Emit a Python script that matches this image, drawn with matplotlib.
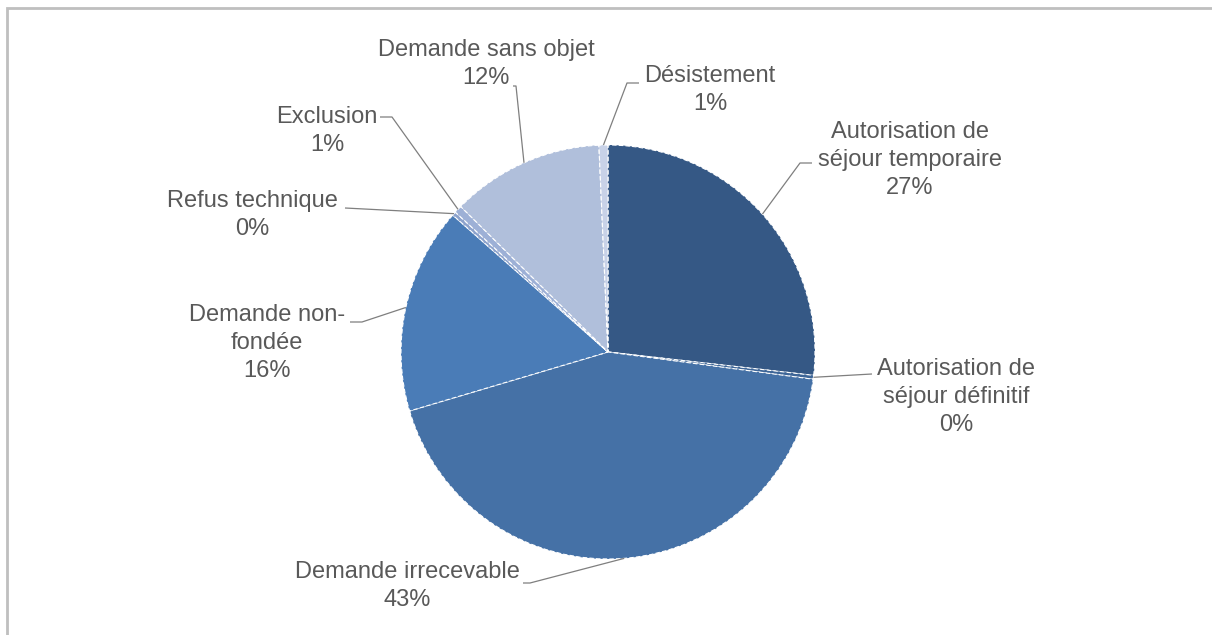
import numpy as np
import matplotlib
matplotlib.use("Agg")
import matplotlib.pyplot as plt
from matplotlib.patches import Rectangle

# slices, clockwise from 12 o'clock
labels = ["Autorisation de\nséjour temporaire", "Autorisation de\nséjour définitif",
          "Demande irrecevable", "Demande non-\nfondée", "Refus technique",
          "Exclusion", "Demande sans objet", "Désistement"]
shares = [26.8, 0.3, 43.3, 16.1, 0.3, 0.6, 11.9, 0.7]
colors = ["#355885", "#3E6698", "#4571A6", "#4A7CB7", "#8CA2CC",
          "#9DB0D6", "#B0BFDB", "#C8D2E8"]

W, H = 1212, 635
fig = plt.figure(figsize=(W / 100, H / 100), dpi=100)
ax = fig.add_axes([0, 0, 1, 1])

cx, cy, r = 608, H - 352, 207
ax.pie(shares, colors=colors, startangle=90, counterclock=False,
       center=(cx, cy), radius=r,
       wedgeprops=dict(edgecolor="white", linewidth=0.8, linestyle=(0, (4, 2))))
ax.set_xlim(0, W)
ax.set_ylim(0, H)
ax.set_aspect("equal")
ax.axis("off")

# label block centre and leader-line path (elbow, end), in pixels from top-left
layout = [
    ((910, 160), [(800, 163), (812, 163)]),
    ((956, 397), [(872, 374)]),
    ((407, 586), [(530, 583), (523, 583)]),
    ((267, 343), [(362, 322), (350, 322)]),
    ((252, 215), [(345, 208)]),
    ((327, 131), [(392, 117), (380, 117)]),
    ((486, 64), [(516, 86), (513, 86)]),
    ((710, 90), [(627, 83), (639, 83)]),
]

bounds = np.cumsum([0] + shares) / sum(shares)
for i, (lab, val) in enumerate(zip(labels, shares)):
    mid = 90 - 360 * (bounds[i] + bounds[i + 1]) / 2
    px = cx + r * np.cos(np.radians(mid))
    py = cy + r * np.sin(np.radians(mid))
    (tx, ty), path = layout[i]
    xs = [px] + [p[0] for p in path]
    ys = [py] + [H - p[1] for p in path]
    ax.plot(xs, ys, color="#7F7F7F", lw=0.9, solid_capstyle="butt")
    ax.text(tx, H - ty, f"{lab}\n{round(val)}%", ha="center", va="center",
            fontsize=17, family="Liberation Sans", color="#595959",
            linespacing=1.38)

# chart frame (only top/left edges fall inside the picture)
fig.patches.append(Rectangle((7, -20), W + 50, H - 8 + 20, transform=None,
                             fill=False, edgecolor="#BFBFBF", lw=2))

fig.savefig("out.png", dpi=100, facecolor="white")
